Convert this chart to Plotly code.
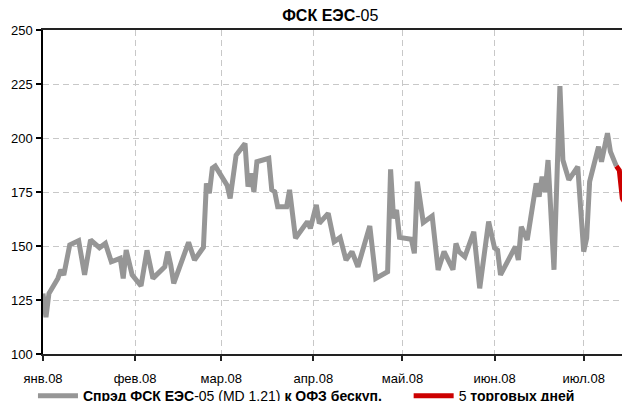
import plotly.graph_objects as go

# Spread series (gray) - dates and values in bp
dates = [
    "2008-01-01", "2008-01-02", "2008-01-03", "2008-01-06", "2008-01-07", "2008-01-08",
    "2008-01-10", "2008-01-13", "2008-01-15", "2008-01-17", "2008-01-20", "2008-01-22",
    "2008-01-24", "2008-01-27", "2008-01-28", "2008-01-29", "2008-01-31",
    "2008-02-03", "2008-02-05", "2008-02-07", "2008-02-11", "2008-02-12", "2008-02-13",
    "2008-02-14", "2008-02-19", "2008-02-21", "2008-02-24", "2008-02-25", "2008-02-26",
    "2008-02-27", "2008-02-28",
    "2008-03-03", "2008-03-04", "2008-03-06", "2008-03-09", "2008-03-10", "2008-03-11",
    "2008-03-12", "2008-03-13", "2008-03-17", "2008-03-18", "2008-03-19", "2008-03-20",
    "2008-03-23", "2008-03-24", "2008-03-26", "2008-03-30", "2008-03-31",
    "2008-04-02", "2008-04-03", "2008-04-06", "2008-04-08", "2008-04-10", "2008-04-12",
    "2008-04-14", "2008-04-16", "2008-04-20", "2008-04-22", "2008-04-26", "2008-04-27",
    "2008-04-28", "2008-04-29", "2008-04-30",
    "2008-05-04", "2008-05-05", "2008-05-06", "2008-05-08", "2008-05-11", "2008-05-13",
    "2008-05-15", "2008-05-18", "2008-05-19", "2008-05-20", "2008-05-22", "2008-05-25",
    "2008-05-27", "2008-05-30",
    "2008-06-01", "2008-06-02", "2008-06-03", "2008-06-08", "2008-06-09", "2008-06-10",
    "2008-06-12", "2008-06-15", "2008-06-16", "2008-06-17", "2008-06-18", "2008-06-19",
    "2008-06-21", "2008-06-23", "2008-06-24", "2008-06-26", "2008-06-29",
    "2008-07-01", "2008-07-02", "2008-07-03", "2008-07-06", "2008-07-07", "2008-07-09",
    "2008-07-10", "2008-07-12",
]
spread = [
    128, 117, 128, 135, 139, 136.6,
    150.5, 152.5, 136.6, 152.8, 149.2, 151.2,
    142.7, 144.3, 135, 148.1, 136.6,
    131.5, 148, 135, 140.4, 147.4, 141.2,
    132.7, 151.7, 143.5, 149.4, 179, 174.4,
    186, 187,
    178, 172, 192, 197.5, 177.5, 183.6,
    175.1, 189, 190.6, 176, 175.1, 168.2,
    168.2, 176, 153.6, 161.3, 158.2,
    169, 160.5, 165.1, 152, 154, 143.5,
    147.4, 140.4, 159.3, 135, 138.1, 185.5,
    162.8, 166.7, 154,
    153.1, 146.6, 179.8, 160.9, 163.9, 138.9,
    147.4, 139, 151.2, 147.4, 145, 156.6,
    130.4, 161.3,
    149.1, 148.1, 136.6, 149.7, 143.5, 158.9,
    152.8, 179, 172.8, 182.1, 175.1, 189.8,
    139, 224, 189.8, 180.6, 186.7,
    147.4, 153.6, 179.8, 196, 189, 202.2,
    193.7, 187,
]

# Last 5 trading days (red)
dates_last = ["2008-07-12", "2008-07-13", "2008-07-14", "2008-07-15", "2008-07-16"]
spread_last = [187, 185, 172, 170, 172]

tick_vals = ["2008-01-01", "2008-02-01", "2008-03-01", "2008-04-01",
             "2008-05-01", "2008-06-01", "2008-07-01"]
tick_text = ["янв.08", "фев.08", "мар.08", "апр.08", "май.08", "июн.08", "июл.08"]
y_ticks = [100, 125, 150, 175, 200, 225, 250]

FONT = "Liberation Sans, Arial, sans-serif"

fig = go.Figure()
fig.add_trace(go.Scatter(
    x=dates, y=spread, mode="lines",
    name="<b>Спрэд ФСК ЕЭС</b>-05 (MD 1.21) <b>к ОФЗ бескуп.</b>",
    line=dict(color="#969696", width=5), legend="legend",
))
fig.add_trace(go.Scatter(
    x=dates_last, y=spread_last, mode="lines",
    name="5 <b>торговых дней</b>",
    line=dict(color="#cc0000", width=5), legend="legend2",
))

legend_common = dict(orientation="h", xref="container", yref="container",
                     xanchor="left", yanchor="middle",
                     font=dict(size=14, family=FONT), itemwidth=40,
                     bgcolor="rgba(0,0,0,0)", borderwidth=0)

fig.update_layout(
    width=622, height=401,
    margin=dict(l=43, r=0, t=30, b=47, autoexpand=False),
    paper_bgcolor="white", plot_bgcolor="white",
    font=dict(family=FONT, size=13, color="black"),
    title=dict(text="<b>ФСК ЕЭС</b>-05", x=0.531, xanchor="center",
               y=0.975, yanchor="top", font=dict(size=16, family=FONT)),
    showlegend=True,
    legend=dict(x=0.053, y=0.012, **legend_common),
    legend2=dict(x=0.657, y=0.012, **legend_common),
)
fig.update_xaxes(
    type="date", range=["2008-01-01", "2008-07-13 21:30"],
    tickvals=tick_vals, ticktext=tick_text, automargin=False,
    showgrid=True, gridcolor="#c8c8c8", griddash="6px,4px", gridwidth=1,
    showline=True, linecolor="#222", linewidth=2, mirror=True,
    ticks="outside", ticklen=5, tickcolor="#222", tickwidth=1.5,
    ticklabelstandoff=6, zeroline=False,
)
fig.update_yaxes(
    range=[100, 250], tickvals=y_ticks, automargin=False,
    showgrid=True, gridcolor="#c8c8c8", griddash="6px,4px", gridwidth=1,
    showline=True, linecolor="black", linewidth=1.5,
    ticks="outside", ticklen=5, tickcolor="black", tickwidth=1.5,
    ticklabelstandoff=1, zeroline=False,
)

fig.write_html("out.html", config={"displayModeBar": False},
               post_script="document.body.style.margin='0';document.body.style.overflow='hidden';")
